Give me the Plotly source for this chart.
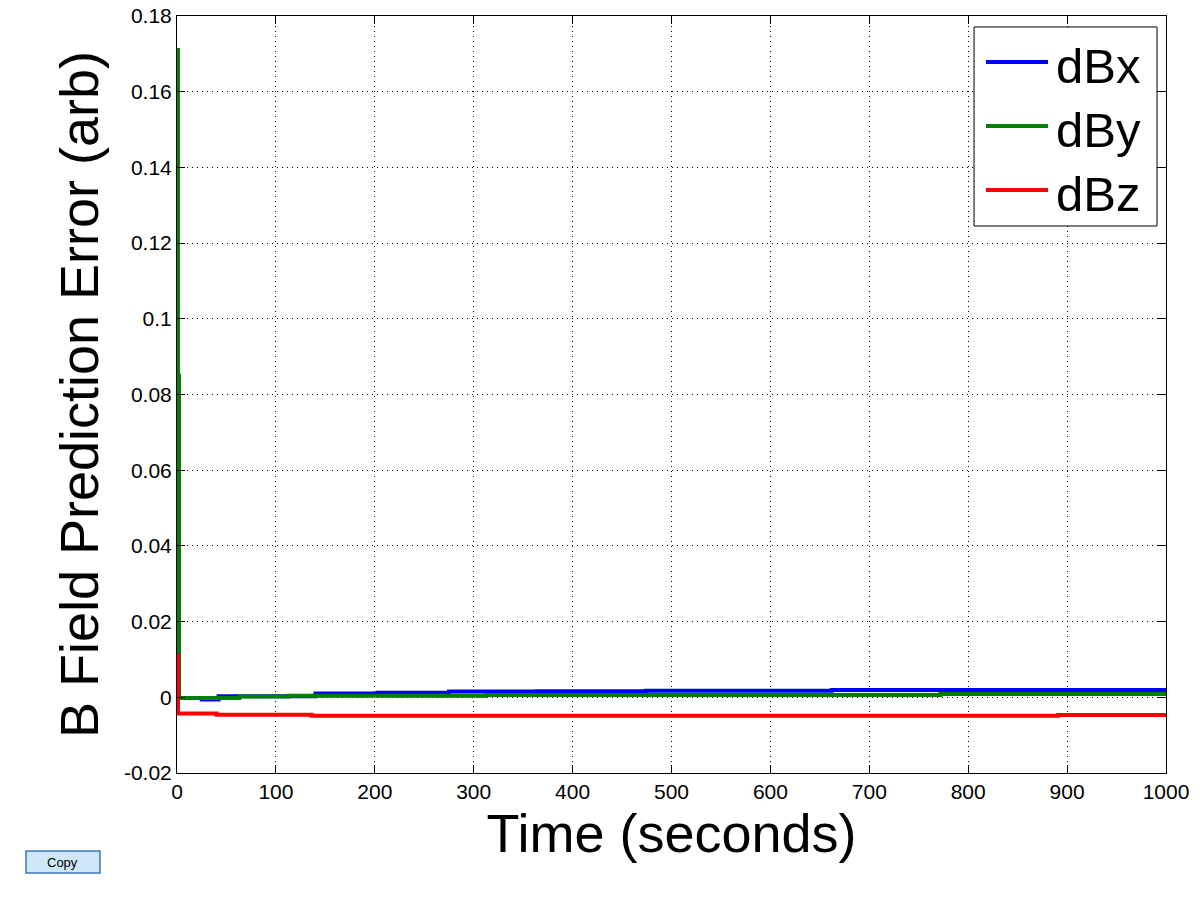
import plotly.graph_objects as go

# ---- data ----
x_ticks = [0, 100, 200, 300, 400, 500, 600, 700, 800, 900, 1000]
y_ticks = [-0.02, 0, 0.02, 0.04, 0.06, 0.08, 0.1, 0.12, 0.14, 0.16, 0.18]
y_tick_labels = ["-0.02", "0", "0.02", "0.04", "0.06", "0.08", "0.1", "0.12", "0.14", "0.16", "0.18"]

bx_t = [0, 25, 42, 140, 203, 275, 363, 474, 662, 1000]
bx_v = [-0.0002, -0.0006, 0.0003, 0.0010, 0.0012, 0.0015, 0.0016, 0.0017, 0.0019, 0.0019]

by_t = [0, 1, 2, 63, 113, 312, 772, 1000]
by_v = [0.171, 0.085, -0.0002, 0.0002, 0.0004, 0.0006, 0.0009, 0.0009]

bz_t = [0, 1, 40, 136, 891, 1000]
bz_v = [0.011, -0.0043, -0.0046, -0.0049, -0.0047, -0.0047]

series_names = ["dBx", "dBy", "dBz"]
series_t = [bx_t, by_t, bz_t]
series_v = [bx_v, by_v, bz_v]
colors = ["#0000ff", "#008000", "#ff0000"]

FONT = "Liberation Sans, Arial, sans-serif"

fig = go.Figure()
for name, t, v, c in zip(series_names, series_t, series_v, colors):
    fig.add_trace(go.Scatter(x=t, y=v, mode="lines", name=name, showlegend=False,
                             line=dict(color=c, width=4, shape="hv")))

axis_common = dict(showline=True, linecolor="black", linewidth=1, mirror="allticks",
                   ticks="inside", ticklen=8, tickcolor="black", tickwidth=1,
                   showgrid=True, gridcolor="black", gridwidth=1, griddash="1px,4px",
                   zeroline=False, automargin=False, ticklabeloverflow="allow",
                   tickfont=dict(family=FONT, size=21, color="black"))

fig.update_xaxes(range=[0, 1000], tickvals=x_ticks, ticktext=[str(v) for v in x_ticks],
                 title=dict(text="Time (seconds)", font=dict(family=FONT, size=54, color="black"), standoff=10),
                 **axis_common)
fig.update_yaxes(range=[-0.02, 0.18], tickvals=y_ticks, ticktext=y_tick_labels,
                 title=dict(text="B Field Prediction Error (arb)", font=dict(family=FONT, size=54, color="black"), standoff=8),
                 **axis_common)

# ---- legend box drawn in paper coordinates (MATLAB-style) ----
shapes = [dict(type="rect", xref="paper", yref="paper", x0=0.8059, x1=0.9909, y0=0.7226, y1=0.9855,
               line=dict(color="black", width=1), fillcolor="white", layer="above")]
annotations = []
legend_y = [0.9392, 0.8547, 0.7702]
for name, c, ly in zip(series_names, colors, legend_y):
    shapes.append(dict(type="line", xref="paper", yref="paper", x0=0.818, x1=0.8807, y0=ly, y1=ly,
                       line=dict(color=c, width=4), layer="above"))
    annotations.append(dict(x=0.8868, y=ly - 0.005, xref="paper", yref="paper", xanchor="left", yanchor="middle",
                            text=name, showarrow=False, font=dict(family=FONT, size=49, color="black")))

# ---- "Copy" button under the axes ----
shapes.append(dict(type="rect", xref="paper", yref="paper", x0=-0.1527, x1=-0.0779, y0=-0.1321, y1=-0.103,
                   line=dict(color="#3c78b4", width=1.5), fillcolor="#cde6f8", layer="above"))
annotations.append(dict(x=-0.1153, y=-0.1176, xref="paper", yref="paper", xanchor="center", yanchor="middle",
                        text="Copy", showarrow=False, font=dict(family=FONT, size=13, color="black")))

# the page body adds an 8px offset, so the figure is sized to fit the window
fig.update_layout(
    width=1184, height=884,
    margin=dict(l=169, r=26, t=8, b=119),
    paper_bgcolor="white", plot_bgcolor="white",
    showlegend=False,
    shapes=shapes,
    annotations=annotations,
)

fig.write_html("out.html")
